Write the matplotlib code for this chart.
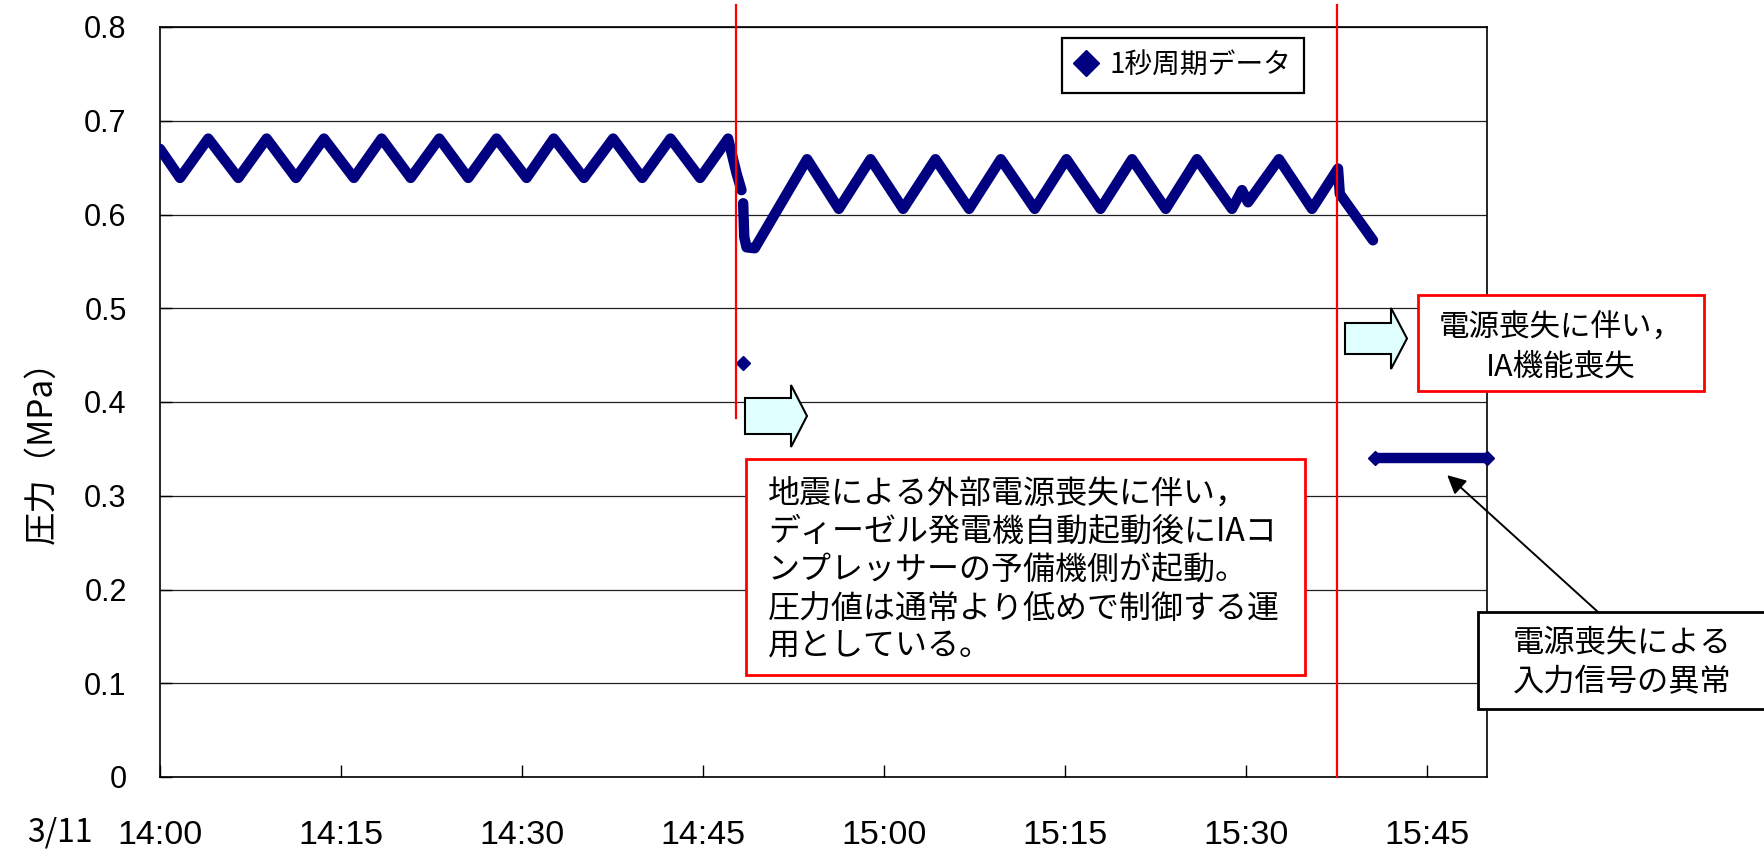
import matplotlib
matplotlib.use("Agg")
import matplotlib.pyplot as plt
from matplotlib.lines import Line2D
from matplotlib.patches import Rectangle, Polygon

# pressure trace, minutes after 14:00 on 3/11 -> MPa
normal_t = [0.0, 1.66, 4.00, 6.49, 8.84, 11.27, 13.59, 16.07, 18.37, 20.78, 23.15,
            25.55, 27.90, 30.39, 32.64, 35.14, 37.56, 39.97, 42.32, 44.77, 47.09,
            47.79, 48.20]
normal_p = [0.670, 0.639, 0.681, 0.639, 0.681, 0.639, 0.681, 0.639, 0.681, 0.639, 0.681,
            0.639, 0.681, 0.639, 0.681, 0.639, 0.681, 0.639, 0.681, 0.639, 0.681,
            0.644, 0.626]

backup_t = [48.34, 48.43, 48.62, 49.30, 53.64, 56.27, 58.90, 61.60, 64.28, 67.07,
            69.70, 72.51, 75.14, 77.96, 80.58, 83.37, 85.96, 88.86, 89.69, 90.19,
            92.76, 95.49, 97.65, 97.80, 100.55]
backup_p = [0.612, 0.576, 0.565, 0.564, 0.659, 0.606, 0.659, 0.606, 0.659, 0.606,
            0.659, 0.606, 0.659, 0.606, 0.659, 0.606, 0.659, 0.606, 0.626, 0.613,
            0.659, 0.606, 0.649, 0.622, 0.5725]

spike_t = [48.34]
spike_p = [0.442]

lost_t = [100.7, 110.0]
lost_p = [0.34, 0.34]

quake_t = 47.71       # external power lost
power_loss_t = 97.6   # station blackout

xticks = [0, 15, 30, 45, 60, 75, 90, 105]
xtick_labels = ['14:00', '14:15', '14:30', '14:45', '15:00', '15:15', '15:30', '15:45']
yticks = [0, 0.1, 0.2, 0.3, 0.4, 0.5, 0.6, 0.7, 0.8]
ytick_labels = ['0', '0.1', '0.2', '0.3', '0.4', '0.5', '0.6', '0.7', '0.8']

note_quake = ['地震による外部電源喪失に伴い，',
              'ディーゼル発電機自動起動後にIAコ',
              'ンプレッサーの予備機側が起動。',
              '圧力値は通常より低めで制御する運',
              '用としている。']
note_loss = ['電源喪失に伴い，', 'IA機能喪失']
note_signal = ['電源喪失による', '入力信号の異常']

W, H = 1764, 849
JP = ['Noto Sans CJK JP', 'DejaVu Sans']
NAVY = '#000080'

plt.rcParams['font.family'] = ['Liberation Sans', 'Noto Sans CJK JP']


def px(x, y):
    # pixel position (from top-left) -> figure fraction
    return (x / W, 1 - y / H)


fig = plt.figure(figsize=(W / 100, H / 100), dpi=100)
ax = fig.add_axes([160 / W, 1 - 777 / H, 1327 / W, 750 / H])

# data
for t, p in [(normal_t, normal_p), (backup_t, backup_p)]:
    ax.plot(t, p, color=NAVY, lw=7.5, solid_capstyle='round', solid_joinstyle='round',
            zorder=3)
ax.plot(lost_t, lost_p, color=NAVY, lw=7.5, solid_capstyle='butt',
        marker='D', markersize=7.5, zorder=3, clip_on=False)
ax.plot(spike_t, spike_p, 'D', color=NAVY, markersize=7, zorder=3)

# event lines
ax.plot([quake_t, quake_t], [0.3826, 0.823], color='red', lw=1.6, clip_on=False, zorder=4)
ax.plot([power_loss_t, power_loss_t], [0, 0.823], color='red', lw=1.6, clip_on=False, zorder=4)

ax.set_xlim(0, 110)
ax.set_ylim(0, 0.8)
ax.set_xticks(xticks)
ax.set_xticklabels(xtick_labels, fontsize=24.5)
ax.set_yticks(yticks)
ax.set_yticklabels(ytick_labels, fontsize=22)
ax.tick_params(axis='both', direction='in', length=8.5, width=1, color='black')
ax.tick_params(axis='x', pad=31)
ax.tick_params(axis='y', pad=24)
ax.yaxis.grid(True, color='#202020', lw=0.9)
ax.set_axisbelow(True)
for s in ax.spines.values():
    s.set_color('black')
    s.set_linewidth(1.2)

fig.text(*px(60, 832), '3/11', fontsize=23, family=JP, ha='center', va='center')
fig.text(*px(42, 444), '圧力（MPa）', fontsize=24, family=JP, rotation=90,
         ha='center', va='center')

# legend
handle = Line2D([], [], color=NAVY, marker='D', linestyle='none', markersize=13)
leg = ax.legend([handle], ['1秒周期データ'], loc='upper left',
                bbox_to_anchor=(0.680, 0.986), borderaxespad=0, fancybox=False,
                framealpha=1, edgecolor='black', prop={'family': JP, 'size': 20},
                handlelength=0.8, handletextpad=0.45, borderpad=0.45)
leg.get_frame().set_linewidth(1.6)


def block_arrow(x0, xh, xt, y_body0, y_body1, y_head0, y_head1):
    yc = (y_head0 + y_head1) / 2
    pts = [px(x0, y_body0), px(xh, y_body0), px(xh, y_head0), px(xt, yc),
           px(xh, y_head1), px(xh, y_body1), px(x0, y_body1)]
    fig.patches.append(Polygon(pts, closed=True, transform=fig.transFigure,
                               facecolor='#e0ffff', edgecolor='black', lw=1.5, zorder=5))


def note_box(x0, y0, x1, y1, color):
    (fx0, fy1), (fx1, fy0) = px(x0, y0), px(x1, y1)
    fig.patches.append(Rectangle((fx0, fy0), fx1 - fx0, fy1 - fy0,
                                 transform=fig.transFigure, facecolor='white',
                                 edgecolor=color, lw=2, zorder=5))


block_arrow(745, 791, 807, 398, 434, 385, 447)
block_arrow(1345, 1391, 1407, 323, 354, 308, 369)

note_box(746, 459, 1305, 675, 'red')
for i, line in enumerate(note_quake):
    fig.text(*px(768, 494 + 38.2 * i), line, fontsize=23, family=JP,
             ha='left', va='center', zorder=6)

note_box(1418, 295, 1704, 391, 'red')
for i, line in enumerate(note_loss):
    fig.text(*px(1561, 327 + 40 * i), line, fontsize=22, family=JP,
             ha='center', va='center', zorder=6)

note_box(1478, 612, 1770, 709, 'black')
for i, line in enumerate(note_signal):
    fig.text(*px(1622, 643 + 39 * i), line, fontsize=22.5, family=JP,
             ha='center', va='center', zorder=6)

ax.annotate('', xy=(106.7, 0.322), xycoords='data',
            xytext=px(1598, 612), textcoords='figure fraction',
            arrowprops=dict(arrowstyle='-|>', color='black', lw=1.4,
                            mutation_scale=28, shrinkA=0, shrinkB=0),
            annotation_clip=False)

fig.savefig('out.png', dpi=100)
